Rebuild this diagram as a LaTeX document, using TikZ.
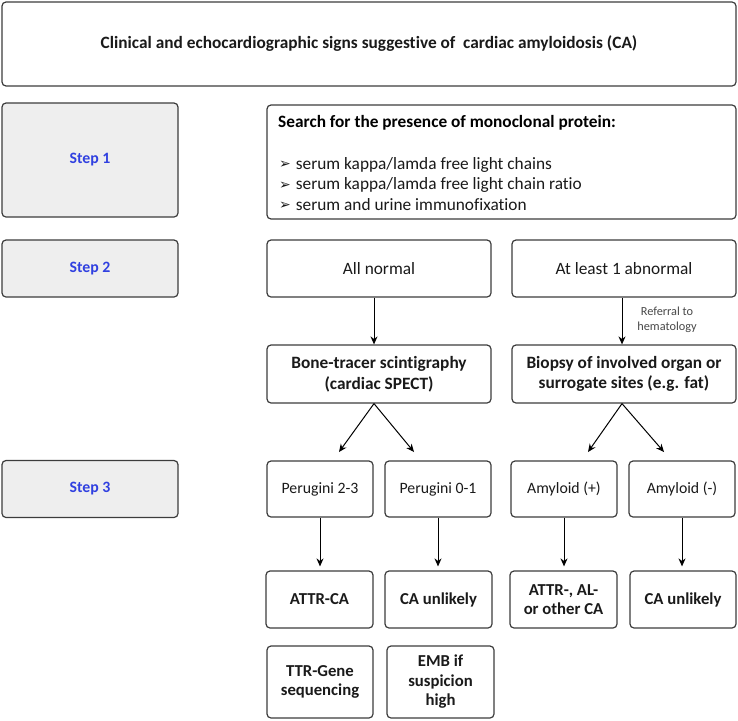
\documentclass[tikz,border=0pt]{standalone}
\usepackage{fontspec}
\setmainfont{Carlito}[Ligatures=NoCommon]
\newfontfamily\symfont{DejaVu Sans}
\usetikzlibrary{arrows.meta}
\definecolor{edge}{HTML}{3C3C3C}
\definecolor{stepfill}{HTML}{EEEEEE}
\definecolor{stepblue}{HTML}{3040E0}
\definecolor{txt}{HTML}{1A1A1A}
\tikzset{
  box/.style={draw=edge, line width=1.2pt, rounded corners=4pt, fill=white, inner sep=2pt, align=center, text=txt},
  stepbox/.style={box, fill=stepfill, text=stepblue, font=\fontsize{15.8}{19}\selectfont\bfseries},
  plain/.style={font=\fontsize{17.3}{20.5}\selectfont},
  bold/.style={font=\fontsize{17.3}{20.5}\selectfont\bfseries},
  small/.style={font=\fontsize{15.8}{19}\selectfont},
  smallbold/.style={font=\fontsize{16.7}{19.5}\selectfont\bfseries},
  arr/.style={draw=black, line width=1pt, -{Stealth[length=8pt,width=7pt]}},
  note/.style={font=\fontsize{12.3}{15}\selectfont, text=txt!80, align=center, inner sep=0pt}
}
\newcommand{\blt}{\raisebox{0.5pt}{\symfont\fontsize{14}{14}\selectfont ➢}\hspace{5pt}}
\begin{document}
\begin{tikzpicture}[x=1pt,y=-1pt]
\useasboundingbox (0,0) rectangle (738,720);
% title
\node[box, bold, minimum width=734pt, minimum height=84pt] (title) at (369,44)
  {Clinical and echocardiographic signs suggestive of\ \ cardiac amyloidosis (CA)};
% step boxes
\node[stepbox, minimum width=176pt, minimum height=114pt] (s1) at (90,160) {Step 1};
\node[stepbox, minimum width=176pt, minimum height=57pt] (s2) at (90,268.5) {Step 2};
\node[stepbox, minimum width=176pt, minimum height=57pt] (s3) at (90,489) {Step 3};
% search box
\node[box, minimum width=469pt, minimum height=114pt] (search) at (501.5,162) {};
\node[bold, anchor=west, inner sep=0pt] (shead) at (278,123) {Search for the presence of monoclonal protein:};
\node[plain, anchor=west, align=left, inner sep=0pt, text=txt] (slist) at (279,184)
  {\blt serum kappa/lamda free light chains\\
   \blt serum kappa/lamda free light chain ratio\\
   \blt serum and urine immunofixation};
% step 2 row
\node[box, plain, minimum width=224pt, minimum height=57pt] (norm) at (379,268.5) {All normal};
\node[box, plain, minimum width=224pt, minimum height=57pt] (abn) at (624,268.5) {At least 1 abnormal};
\node[box, bold, minimum width=224pt, minimum height=58pt] (bone) at (379,374) {Bone-tracer scintigraphy\\(cardiac SPECT)};
\node[box, bold, minimum width=224pt, minimum height=58pt] (biop) at (624,374) {Biopsy of involved organ or\\surrogate sites (e.g. fat)};
% step 3 row
\node[box, small, minimum width=106pt, minimum height=56pt] (p23) at (320,489) {Perugini 2-3};
\node[box, small, minimum width=106pt, minimum height=56pt] (p01) at (438,489) {Perugini 0-1};
\node[box, small, minimum width=106pt, minimum height=56pt] (amp) at (564,489) {Amyloid (+)};
\node[box, small, minimum width=106pt, minimum height=56pt] (amn) at (682,489) {Amyloid (-)};
% results
\node[box, smallbold, minimum width=107pt, minimum height=57pt] (attr) at (319.5,599.5) {ATTR-CA};
\node[box, smallbold, minimum width=107pt, minimum height=57pt] (cau1) at (438.5,599.5) {CA unlikely};
\node[box, smallbold, minimum width=107pt, minimum height=57pt] (other) at (563.5,599.5) {ATTR-, AL-\\or other CA};
\node[box, smallbold, minimum width=106pt, minimum height=57pt] (cau2) at (683,599.5) {CA unlikely};
\node[box, smallbold, minimum width=106pt, minimum height=72pt] (ttr) at (320,682) {TTR-Gene\\sequencing};
\node[box, smallbold, minimum width=107pt, minimum height=72pt] (emb) at (440.5,682) {EMB if\\suspicion\\high};
% arrows
\draw[arr] ([xshift=-5pt]norm.south) -- ([xshift=-5pt]bone.north);
\draw[arr] ([xshift=-2pt]abn.south) -- ([xshift=-2pt]biop.north);
\node[note] (ref) at (667,320) {Referral to\\hematology};
\coordinate (t1) at (339,452);
\coordinate (t2) at (414,452);
\coordinate (t3) at (588,452);
\coordinate (t4) at (664,452);
\draw[arr] ([xshift=-5pt]bone.south) -- (t1);
\draw[arr] ([xshift=-5pt]bone.south) -- (t2);
\draw[arr] ([xshift=-2pt]biop.south) -- (t3);
\draw[arr] ([xshift=-2pt]biop.south) -- (t4);
\draw[arr] (p23.south) -- ([yshift=4pt]p23.south |- attr.north);
\draw[arr] (p01.south) -- ([yshift=4pt]p01.south |- cau1.north);
\draw[arr] (amp.south) -- ([yshift=4pt]amp.south |- other.north);
\draw[arr] (amn.south) -- ([yshift=4pt]amn.south |- cau2.north);
\end{tikzpicture}
\end{document}
